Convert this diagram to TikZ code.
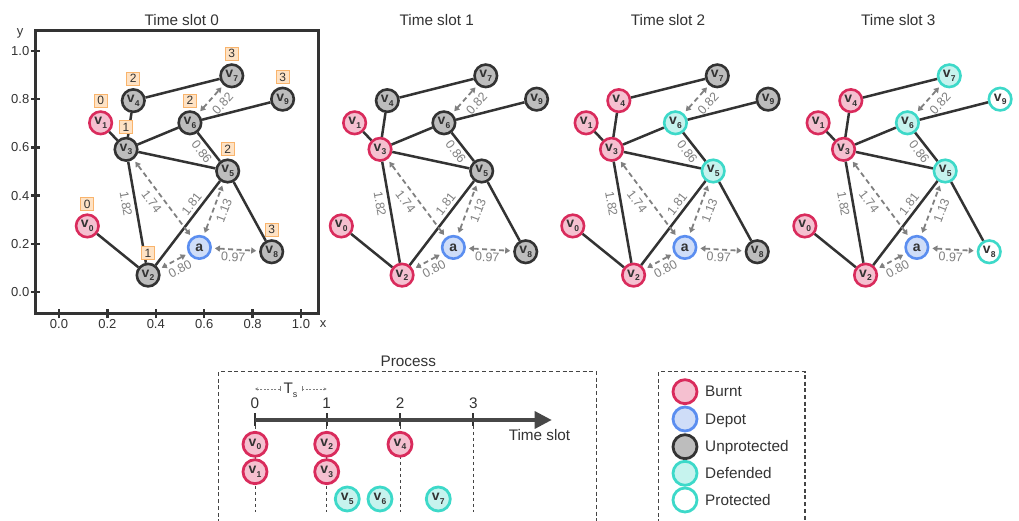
\documentclass[tikz,border=0pt]{standalone}
\usepackage{fontspec}
\setmainfont{Liberation Sans}
\usetikzlibrary{arrows.meta}

\definecolor{ink}{HTML}{333333}
\definecolor{burntE}{HTML}{D92B5C}
\definecolor{burntF}{HTML}{F5C0D0}
\definecolor{depotE}{HTML}{5B8EF0}
\definecolor{depotF}{HTML}{CFDDF8}
\definecolor{unprotF}{HTML}{BDBDBD}
\definecolor{defE}{HTML}{3DD9C9}
\definecolor{defF}{HTML}{C6F3EE}
\definecolor{ordE}{HTML}{F9B46C}
\definecolor{ordF}{HTML}{FEE2C4}
\definecolor{distc}{HTML}{808080}
\definecolor{dashc}{HTML}{444444}

% vertex label: bold v with a subscript index
\newcommand\vlab[1]{v\kern0.2pt\raisebox{-3.5pt}{\fontsize{8.5}{8.5}\selectfont #1}}

\tikzset{
  gnode/.style={circle, minimum size=22.5pt, inner sep=0pt, line width=2.6pt,
    text=ink, font=\fontsize{14}{14}\selectfont\bfseries},
  bignode/.style={minimum size=24pt, line width=2.8pt},
  burnt/.style={gnode, draw=burntE, fill=burntF},
  depot/.style={gnode, draw=depotE, fill=depotF},
  unprot/.style={gnode, draw=ink, fill=unprotF},
  defended/.style={gnode, draw=defE, fill=defF},
  protected/.style={gnode, draw=defE, fill=white},
  road/.style={draw=ink, line width=2.5pt},
  dist/.style={draw=distc, line width=1.8pt, dash pattern=on 5pt off 3.5pt,
    {Triangle[length=5pt,width=6pt]}-{Triangle[length=5pt,width=6pt]},
    shorten >=3pt, shorten <=3pt},
  dlab/.style={text=distc, font=\fontsize{12.5}{12.5}\selectfont, inner sep=0pt},
  order/.style={draw=ordE, fill=ordF, line width=1.2pt, minimum width=13pt,
    minimum height=13pt, inner sep=0pt, text=ink, font=\fontsize{12}{12}\selectfont},
  title/.style={text=ink, font=\fontsize{15.3}{15.3}\selectfont, inner sep=0pt},
  ticklab/.style={text=ink, font=\fontsize{13}{13}\selectfont, inner sep=0pt},
  boxdash/.style={draw=dashc, line width=1.2pt, dash pattern=on 4pt off 2.7pt},
  guide/.style={draw=dashc, line width=0.7pt, dash pattern=on 3pt off 3pt},
}

% one road network; #1 = horizontal offset, #2 = name prefix, #3 = vertex styles
\newcommand\graphpanel[3]{%
  \begin{scope}[#3, shift={(#1+59,229)}, x=242pt, y=241pt]
    \node[sty0] (#2v0) at (0.117,0.274) {\vlab{0}};
    \node[sty1] (#2v1) at (0.172,0.702) {\vlab{1}};
    \node[sty2] (#2v2) at (0.368,0.070) {\vlab{2}};
    \node[sty3] (#2v3) at (0.277,0.592) {\vlab{3}};
    \node[sty4] (#2v4) at (0.307,0.794) {\vlab{4}};
    \node[sty5] (#2v5) at (0.697,0.502) {\vlab{5}};
    \node[sty6] (#2v6) at (0.541,0.702) {\vlab{6}};
    \node[sty7] (#2v7) at (0.714,0.897) {\vlab{7}};
    \node[sty8] (#2v8) at (0.879,0.167) {\vlab{8}};
    \node[sty9] (#2v9) at (0.924,0.800) {\vlab{9}};
    \node[depot] (#2a) at (0.580,0.185) {a};
    % roads
    \draw[road] (#2v0) -- (#2v2);
    \draw[road] (#2v1) -- (#2v3);
    \draw[road] (#2v3) -- (#2v4);
    \draw[road] (#2v4) -- (#2v7);
    \draw[road] (#2v3) -- (#2v6);
    \draw[road] (#2v6) -- (#2v9);
    \draw[road] (#2v3) -- (#2v5);
    \draw[road] (#2v6) -- (#2v5);
    \draw[road] (#2v3) -- (#2v2);
    \draw[road] (#2v2) -- (#2v5);
    \draw[road] (#2v5) -- (#2v8);
    % firefighter travel distances
    \draw[dist] (#2a) -- (#2v3);
    \draw[dist] (#2a) -- (#2v5);
    \draw[dist] (#2a) -- (#2v2);
    \draw[dist] (#2a) -- (#2v8);
    \draw[dist] (#2v6) -- (#2v7);
    \node[dlab, rotate=-53] at (0.383,0.375) {1.74};
    \node[dlab, rotate=-80] at (0.277,0.365) {1.82};
    \node[dlab, rotate=52]  at (0.548,0.366) {1.81};
    \node[dlab, rotate=69]  at (0.682,0.338) {1.13};
    \node[dlab, rotate=-52] at (0.590,0.582) {0.86};
    \node[dlab, rotate=48]  at (0.676,0.782) {0.82};
    \node[dlab, rotate=28]  at (0.500,0.094) {0.80};
    \node[dlab, rotate=-3]  at (0.720,0.144) {0.97};
  \end{scope}}

\begin{document}
\begin{tikzpicture}[x=1pt, y=1pt]
  \clip (0,0) rectangle (1019,521);
  \fill[white] (0,0) rectangle (1019,521);

  % ---- panel titles
  \node[title, anchor=base] at (181.7,495) {Time slot 0};
  \node[title, anchor=base] at (436.7,495) {Time slot 1};
  \node[title, anchor=base] at (668,495) {Time slot 2};
  \node[title, anchor=base] at (898.3,495) {Time slot 3};

  % ---- axes of the first panel
  \draw[ink, line width=3pt] (35,207.2) rectangle (318.3,490);
  \foreach \t/\l in {0/0.0, 0.2/0.2, 0.4/0.4, 0.6/0.6, 0.8/0.8, 1/1.0} {
    \draw[ink, line width=2.4pt] (59+242*\t,202.7) -- (59+242*\t,211.7);
    \node[ticklab] at (59+242*\t,196.7) {\l};
    \draw[ink, line width=2.4pt] (31,229+241*\t) -- (39.5,229+241*\t);
    \node[ticklab, anchor=east] at (29.5,229+241*\t) {\l};
  }
  \node[ticklab] at (20,488) {y};
  \node[ticklab] at (323,197) {x};

  % ---- the four time slots
  \graphpanel{0}{P}{sty0/.style=burnt, sty1/.style=burnt, sty2/.style=unprot,
    sty3/.style=unprot, sty4/.style=unprot, sty5/.style=unprot, sty6/.style=unprot,
    sty7/.style=unprot, sty8/.style=unprot, sty9/.style=unprot}
  \graphpanel{254}{Q}{sty0/.style=burnt, sty1/.style=burnt, sty2/.style=burnt,
    sty3/.style=burnt, sty4/.style=unprot, sty5/.style=unprot, sty6/.style=unprot,
    sty7/.style=unprot, sty8/.style=unprot, sty9/.style=unprot}
  \graphpanel{485.5}{R}{sty0/.style=burnt, sty1/.style=burnt, sty2/.style=burnt,
    sty3/.style=burnt, sty4/.style=burnt, sty5/.style=defended, sty6/.style=defended,
    sty7/.style=unprot, sty8/.style=unprot, sty9/.style=unprot}
  \graphpanel{717.5}{S}{sty0/.style=burnt, sty1/.style=burnt, sty2/.style=burnt,
    sty3/.style=burnt, sty4/.style=burnt, sty5/.style=defended, sty6/.style=defended,
    sty7/.style=defended, sty8/.style=protected, sty9/.style=protected}

  % ---- burning / defending order in the first slot
  \foreach \v/\k in {v0/0, v1/0, v2/1, v3/1, v4/2, v5/2, v6/2, v7/3, v8/3, v9/3}
    \node[order] (o\v) at ([yshift=22pt]P\v.center) {\k};

  % ---- process timeline (coordinates measured downward)
  \begin{scope}[shift={(0,521)}, y=-1pt]
    \draw[boxdash] (218.3,530) -- (218.3,371.7) -- (596.7,371.7) -- (596.7,530);
    \node[title, anchor=base] at (408.3,366.7) {Process};

    \coordinate (t0) at (255,420);
    \coordinate (t1) at (326.7,420);
    \coordinate (t2) at (400,420);
    \coordinate (t3) at (473.3,420);
    \coordinate (tend) at (551.7,420);
    \foreach \i in {0,...,3} {
      \draw[guide] (t\i) -- ++(0,92);
      \draw[ink, line width=2pt] (t\i) ++(0,-6.5) -- ++(0,13);
      \node[title, anchor=base] at ([yshift=11.3pt]t\i) {\i};
    }
    \draw[draw=ink!90, line width=3.3pt, -{Triangle[length=17pt,width=17pt]}] (t0) -- (tend);
    \node[title, anchor=base] at (539.5,440.7) {Time slot};

    % slot length
    \node[title] (ts) at (290.5,390) {T\raisebox{-4pt}{\fontsize{9}{9}\selectfont s}};
    \coordinate (tsL) at (255,389);
    \coordinate (tsR) at (326.7,389);
    \draw[distc, line width=0.8pt, dash pattern=on 2pt off 1.5pt,
      {Bar[width=5pt]}-{Stealth[length=3pt,width=3pt]}] (280.5,389) -- (tsL);
    \draw[distc, line width=0.8pt, dash pattern=on 2pt off 1.5pt,
      {Bar[width=5pt]}-{Stealth[length=3pt,width=3pt]}] (301.5,389) -- (tsR);

    \node[burnt, bignode] (q0) at (255,444.3) {\vlab{0}};
    \node[burnt, bignode] (q1) at (255,471.7) {\vlab{1}};
    \node[burnt, bignode] (q2) at (326.7,444.3) {\vlab{2}};
    \node[burnt, bignode] (q3) at (326.7,471.7) {\vlab{3}};
    \node[burnt, bignode] (q4) at (400,444.3) {\vlab{4}};
    \node[defended, bignode] (q5) at (347.3,499) {\vlab{5}};
    \node[defended, bignode] (q6) at (380,499) {\vlab{6}};
    \node[defended, bignode] (q7) at (438.3,499) {\vlab{7}};

    % ---- legend
    \draw[boxdash] (658.3,530) -- (658.3,371.7) -- (805,371.7) -- (805,530);
    \foreach \s/\l/\y in {burnt/Burnt/391.7, depot/Depot/419, unprot/Unprotected/446.7,
        defended/Defended/473.3, protected/Protected/500} {
      \node[\s, bignode] (k\s) at (685,\y) {};
      \node[title, anchor=base west] (kl\s) at (705,\y+5.3) {\l};
    }
  \end{scope}
\end{tikzpicture}
\end{document}
